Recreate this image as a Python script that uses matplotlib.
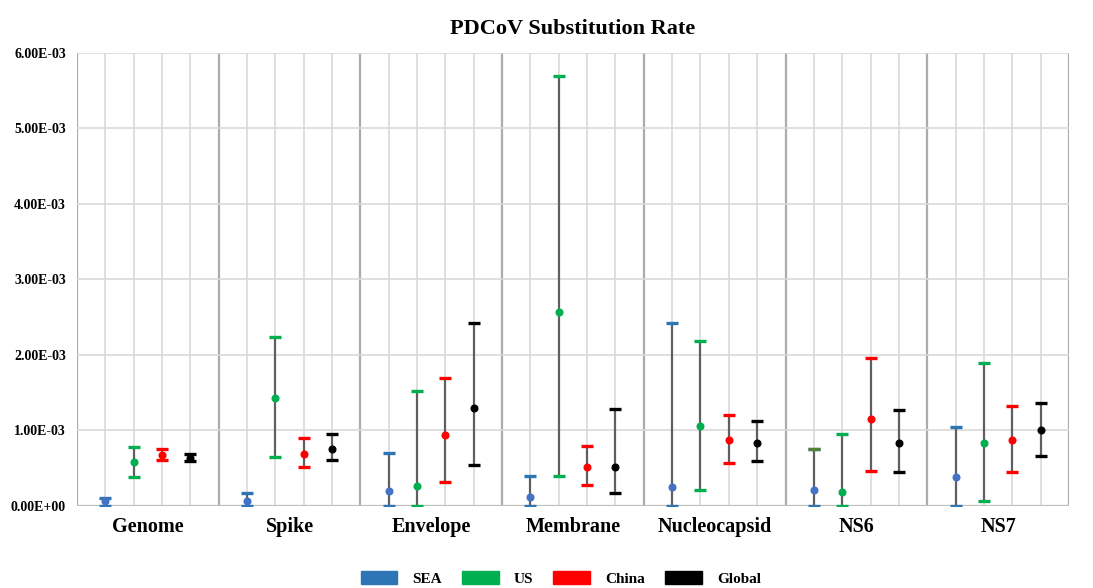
import matplotlib.pyplot as plt
import matplotlib.patches as mpatches
from matplotlib.ticker import FuncFormatter, MultipleLocator
import numpy as np

plt.rcParams['font.family'] = ['Liberation Serif', 'DejaVu Serif']
plt.rcParams['font.weight'] = 'bold'

# Data (units of 1e-3 substitutions/site/year)
genes = ['Genome', 'Spike', 'Envelope', 'Membrane', 'Nucleocapsid', 'NS6', 'NS7']
series = ['SEA', 'US', 'China', 'Global']

sea_mean = [0.06, 0.06, 0.20, 0.12, 0.25, 0.21, 0.39]
sea_low = [0.00, 0.00, 0.00, 0.00, 0.00, 0.00, 0.00]
sea_high = [0.11, 0.17, 0.70, 0.40, 2.43, 0.76, 1.04]

us_mean = [0.58, 1.43, 0.27, 2.57, 1.06, 0.18, 0.84]
us_low = [0.39, 0.645, 0.00, 0.40, 0.21, 0.00, 0.06]
us_high = [0.78, 2.24, 1.52, 5.70, 2.18, 0.95, 1.89]

china_mean = [0.67, 0.69, 0.94, 0.51, 0.87, 1.15, 0.87]
china_low = [0.61, 0.51, 0.32, 0.28, 0.57, 0.46, 0.45]
china_high = [0.75, 0.90, 1.70, 0.79, 1.21, 1.96, 1.33]

global_mean = [0.64, 0.76, 1.30, 0.51, 0.84, 0.84, 1.00]
global_low = [0.59, 0.61, 0.54, 0.17, 0.60, 0.45, 0.66]
global_high = [0.69, 0.95, 2.42, 1.28, 1.12, 1.27, 1.37]

means = [sea_mean, us_mean, china_mean, global_mean]
lows = [sea_low, us_low, china_low, global_low]
highs = [sea_high, us_high, china_high, global_high]

cap_colors = ['#2E75B6', '#00B050', '#FF0000', '#000000']
dot_colors = ['#4472C4', '#00B050', '#FF0000', '#000000']

fig = plt.figure(figsize=(10.93, 5.88), dpi=100)
ax = fig.add_axes([0.0704, 0.1395, 0.9076, 0.7704])

n = len(genes)
for k in range(4):
    x = np.arange(n) * 5 + k + 1
    m = np.array(means[k]) * 1e-3
    lo = np.array(lows[k]) * 1e-3
    hi = np.array(highs[k]) * 1e-3
    line, caps, bars = ax.errorbar(x, m, yerr=[m - lo, hi - m], fmt='o',
                                   color=dot_colors[k], markersize=4.8,
                                   ecolor='#5f5f5f', elinewidth=1.6,
                                   capsize=4.6, capthick=2.4, zorder=3)
    for c in caps:
        c.set_markeredgecolor(cap_colors[k])
        c.set_zorder(4)
    line.set_zorder(5)

# the upper cap of NS6 SEA is olive in the original
ax.plot([5 * 5 + 1], [sea_high[5] * 1e-3], marker='_', markersize=9.2,
        markeredgewidth=2.4, color='#548235', zorder=6)

ax.set_xlim(0, 35)
ax.set_ylim(0, 6e-3)
ax.yaxis.set_major_locator(MultipleLocator(1e-3))
ax.yaxis.set_major_formatter(FuncFormatter(lambda v, p: f'{v:.2E}'))

# grid lines
for xv in range(0, 36):
    if xv % 5 == 0:
        ax.axvline(xv, color='#ABABAB', lw=1.6, zorder=1)
    else:
        ax.axvline(xv, color='#D9D9D9', lw=1.2, zorder=1)
for yv in range(1, 7):
    ax.axhline(yv * 1e-3, color='#D9D9D9', lw=1.2, zorder=1)
ax.axhline(0, color='#BFBFBF', lw=1.6, zorder=2)

ax.set_xticks(np.arange(n) * 5 + 2.5)
ax.set_xticklabels(genes, fontsize=14.5, fontweight='bold')
ax.tick_params(axis='both', length=0)
ax.tick_params(axis='x', pad=8)
ax.tick_params(axis='y', labelsize=10, pad=8)
for s in ax.spines.values():
    s.set_visible(False)

ax.set_title('PDCoV Substitution Rate', fontsize=16, fontweight='bold', pad=14)

handles = [mpatches.Patch(facecolor=c, edgecolor=c) for c in cap_colors]
fig.legend(handles, series, loc='lower center', bbox_to_anchor=(0.513, -0.02),
           ncol=4, frameon=False, fontsize=11, handlelength=2.4, handleheight=0.9,
           columnspacing=1.3, handletextpad=1.0)

fig.savefig('out.png', dpi=100)
